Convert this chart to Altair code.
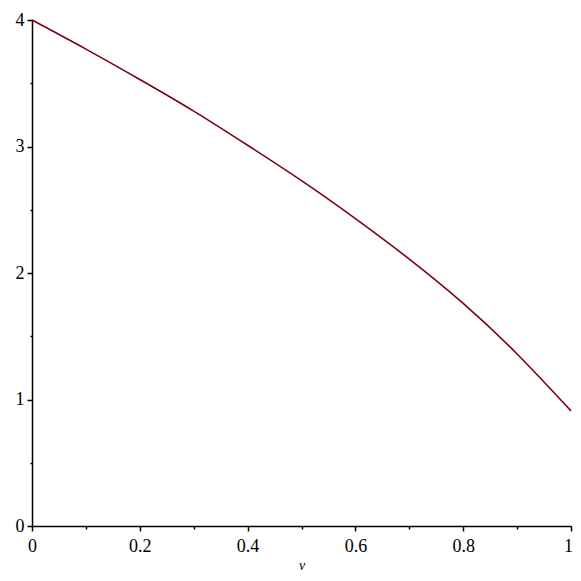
import altair as alt
import pandas as pd

v_vals = [0.0, 0.1, 0.2, 0.3, 0.4, 0.5, 0.6, 0.7, 0.8, 0.9, 1.0]
y_vals = [4.00, 3.77, 3.53, 3.28, 3.01, 2.73, 2.43, 2.11, 1.76, 1.36, 0.91]

df = pd.DataFrame({"v": v_vals, "y": y_vals})

x_ticks = [0, 0.1, 0.2, 0.3, 0.4, 0.5, 0.6, 0.7, 0.8, 0.9, 1.0]
y_ticks = [0, 0.5, 1, 1.5, 2, 2.5, 3, 3.5, 4]

serif = "Liberation Serif, Times New Roman, DejaVu Serif, serif"

chart = alt.Chart(df).mark_line(
    color="#7a0012", strokeWidth=1.6, interpolate="natural"
).encode(
    x=alt.X("v:Q", scale=alt.Scale(domain=[0, 1], nice=False),
            axis=alt.Axis(
                values=x_ticks, title="v", grid=False,
                labelExpr="round(datum.value*10) % 2 == 0 ? datum.label : ''",
                tickSize={"condition": {"test": "round(datum.value*10) % 2 == 0", "value": 5}, "value": 3},
                labelOffset={"condition": {"test": "datum.value == 1", "value": -3}, "value": 0},
                labelPadding=6, labelFont=serif, labelFontSize=18,
                titleFont=serif, titleFontStyle="italic", titleFontWeight="normal",
                titleFontSize=14, titlePadding=3,
                domainColor="black", tickColor="black", labelColor="black",
                domainWidth=1.5, tickWidth=1.5, labelFlush=False,
                format="~g")),
    y=alt.Y("y:Q", scale=alt.Scale(domain=[0, 4], nice=False),
            axis=alt.Axis(
                values=y_ticks, title=None, grid=False,
                labelExpr="datum.value % 1 == 0 ? datum.label : ''",
                tickSize={"condition": {"test": "datum.value % 1 == 0", "value": 5}, "value": 2},
                labelPadding=3, labelFont=serif, labelFontSize=18,
                domainColor="black", tickColor="black", labelColor="black",
                domainWidth=1.5, tickWidth=1.5, labelFlush=False,
                format="~g")),
).properties(
    width=539, height=506,
    autosize=alt.AutoSizeParams(type="none"),
    padding={"left": 24, "top": 12, "right": 2, "bottom": 45},
).configure_view(stroke=None)

chart.save("out.html", embed_options={"renderer": "svg", "actions": False})
